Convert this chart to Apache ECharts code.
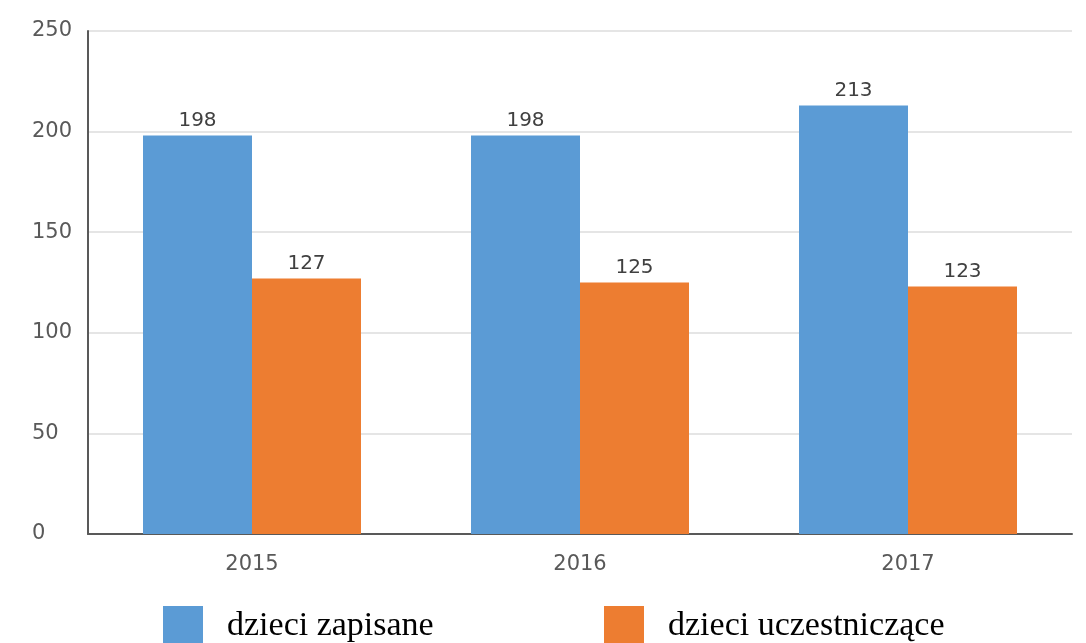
<!DOCTYPE html>
<html>
<head>
<meta charset="utf-8">
<script src="https://cdn.jsdelivr.net/npm/echarts@6/dist/echarts.min.js"></script>
<style>
  html, body { margin: 0; padding: 0; background: #fff; }
  #chart { width: 1086px; height: 643px; }
</style>
</head>
<body>
<div id="chart"></div>
<script>
// lata i wartości
const years = ['2015', '2016', '2017']
const zapisane = [198, 198, 213]
const uczestniczace = [127, 125, 123]
const yTicks = [0, 50, 100, 150, 200, 250]

const blue = '#5b9bd5'
const orange = '#ed7d31'
const grey = '#595959'
const sans = '"DejaVu Sans", sans-serif'

const chart = echarts.init(document.getElementById('chart'))

const legendText = {
    fontFamily: '"Liberation Serif", "DejaVu Serif", serif',
    fontSize: 34,
    color: '#000',
    padding: [0, 0, 0, 19],
}

const barLabel = {
    show: true,
    position: 'top',
    distance: 5,
    color: '#404040',
    fontFamily: sans,
    fontSize: 20,
}

const option = {
    animation: false,
    backgroundColor: '#fff',
    grid: {
        left: 88,
        right: 14,
        top: 31,
        bottom: 109,
    },
    legend: [
        {
            data: ['dzieci zapisane'],
            left: 158,
            top: 601,
            itemWidth: 40,
            itemHeight: 40,
            icon: 'rect',
            textStyle: legendText,
        },
        {
            data: ['dzieci uczestniczące'],
            left: 599,
            top: 601,
            itemWidth: 40,
            itemHeight: 40,
            icon: 'rect',
            textStyle: legendText,
        },
    ],
    xAxis: {
        type: 'category',
        data: years,
        axisLine: { lineStyle: { color: grey, width: 2 } },
        axisTick: { show: false },
        axisLabel: {
            color: grey,
            fontFamily: sans,
            fontSize: 21,
            margin: 20,
        },
    },
    yAxis: {
        type: 'value',
        min: yTicks[0],
        max: yTicks[yTicks.length - 1],
        interval: 50,
        axisLine: { show: true, lineStyle: { color: grey, width: 2 } },
        axisTick: { show: false },
        axisLabel: {
            color: grey,
            fontFamily: sans,
            fontSize: 21,
            align: 'left',
            margin: 56,
        },
        splitLine: {
            lineStyle: { color: '#dcdcdc', width: 1.5 },
        },
    },
    series: [
        {
            name: 'dzieci zapisane',
            type: 'bar',
            data: zapisane,
            barWidth: 109,
            barGap: 0,
            itemStyle: { color: blue },
            label: barLabel,
        },
        {
            name: 'dzieci uczestniczące',
            type: 'bar',
            data: uczestniczace,
            barWidth: 109,
            barGap: 0,
            itemStyle: { color: orange },
            label: barLabel,
        },
    ],
}

chart.setOption(option)
</script>
</body>
</html>
